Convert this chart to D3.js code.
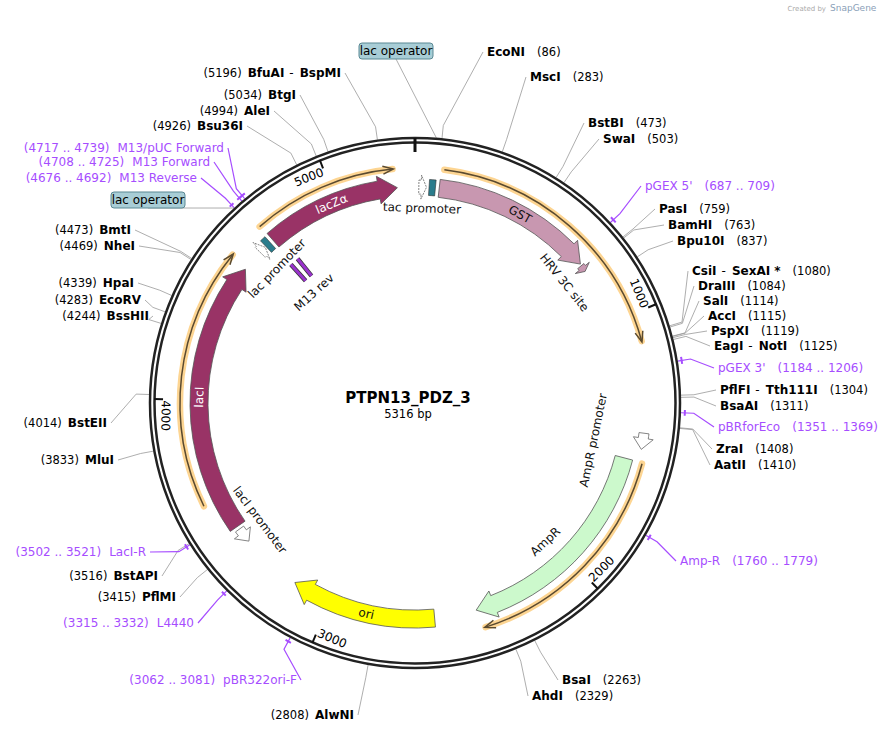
<!DOCTYPE html>
<html><head><meta charset="utf-8">
<script src="https://cdn.jsdelivr.net/npm/d3@7"></script>
<style>body{margin:0;background:#fff}svg{display:block}text{font-family:"DejaVu Sans",Verdana,sans-serif}</style>
</head><body>
<script>
const TOTAL = 5316;
const title = "PTPN13_PDZ_3";
const featureNames = ["GST","HRV 3C site","lacZα","lacI","AmpR","ori"];
const featureStart = [95, 745, 4709, 3473, 1546, 2581];
const featureEnd = [738, 772, 5247, 4552, 2415, 3157];
const featureColors = ["#c897b0","#c897b0","#993366","#993366","#ccf9cc","#ffff00"];
const promoterNames = ["tac promoter","lac promoter","lacI promoter","AmpR promoter"];
const promoterStart = [15, 4640, 3400, 1440];
const promoterEnd = [45, 4668, 3460, 1500];
const operatorPos = [[55, 80], [4672, 4695]];
const m13revPos = [4698, 4738];
const orangeStart = [106, 1550, 3602, 4705];
const orangeEnd = [1107, 2403, 4568, 5238];
const tickValues = [1000, 2000, 3000, 4000, 5000];
const enzymes = [
 ["EcoNI",86],["MscI",283],["BstBI",473],["SwaI",503],["PasI",759],["BamHI",763],["Bpu10I",837],
 ["CsiI - SexAI *",1080],["DraIII",1084],["SalI",1114],["AccI",1115],["PspXI",1119],["EagI - NotI",1125],
 ["PflFI - Tth111I",1304],["BsaAI",1311],["ZraI",1408],["AatII",1410],["BsaI",2263],["AhdI",2329],
 ["AlwNI",2808],["PflMI",3415],["BstAPI",3516],["MluI",3833],["BstEII",4014],["BssHII",4244],["EcoRV",4283],
 ["HpaI",4339],["NheI",4469],["BmtI",4473],["Bsu36I",4926],["AleI",4994],["BtgI",5034],["BfuAI - BspMI",5196]
];
const primers = [
 ["pGEX 5'",687,709],["pGEX 3'",1184,1206],["pBRforEco",1351,1369],["Amp-R",1760,1779],
 ["pBR322ori-F",3062,3081],["L4440",3315,3332],["LacI-R",3502,3521],
 ["M13 Reverse",4676,4692],["M13 Forward",4708,4725],["M13/pUC Forward",4717,4739]
];
const enzymeLayout = [
 [487,56,1],[530,81,1],[588,127,1],[603,143,1],[659,213,1],[668,229,1],[677,245,1],
 [692,275,1],[698,290,1],[703,305,1],[708,320,1],[711,335,1],[714,350,1],
 [720,394,1],[720,410,1],[716,453,1],[714,469,1],[562,684,1],[532,700,1],
 [354,719,-1],[176,601,-1],[158,580,-1],[114,464,-1],[107,427,-1],[149,320,-1],[141,304,-1],
 [134,287,-1],[135,250,-1],[131,234,-1],[243,130,-1],[270,115,-1],[296,99,-1],[341,77,-1]
];
const primerLayout = [
 [645,190,1],[718,372,1],[718,431,1],[680,565,1],
 [297,684,-1],[194,627,-1],[146,556,-1],[197,182,-1],[210,166,-1],[224,152,-1]
];

const W=894,H=733,cx=415,cy=403,R=265;
const svg=d3.select("body").append("svg").attr("width",W).attr("height",H);
const ang=d3.scaleLinear().domain([0,TOTAL]).range([0,2*Math.PI]);
const pt=(r,p)=>{const a=ang(p);return [cx+r*Math.sin(a),cy-r*Math.cos(a)];};
const ca=p=>ang(p)-Math.PI/2;

svg.append("text").attr("x",826).attr("y",11).attr("font-size",7).attr("fill","#aaa").attr("text-anchor","end").text("Created by");
svg.append("text").attr("x",830).attr("y",11).attr("font-size",9).attr("fill","#8aa0b8").text("SnapGene");

const gL=svg.append("g");
function leader(p, lx, ly, side, color, w){
  const a=pt(R+1,p), b=pt(R+14,p);
  const ex = lx - side*4, ey = ly-4;
  gL.append("path").attr("d",`M${a[0]},${a[1]}L${b[0]},${b[1]}L${ex},${ey}`).attr("fill","none").attr("stroke",color).attr("stroke-width",w);
}
enzymes.forEach((e,i)=>{
  const [x,y,s]=enzymeLayout[i];
  leader(e[1],x,y,s,"#999",0.8);
  const t=gL.append("text").attr("x",x).attr("y",y).attr("font-size",12).attr("text-anchor",s>0?"start":"end");
  const parts=e[0].split(" - ");
  const pos="("+e[1]+")";
  if(s<0){ t.append("tspan").attr("font-size",11.5).text(pos); }
  parts.forEach((pp,k)=>{
    if(k>0) t.append("tspan").attr("dx",5).text("-");
    t.append("tspan").attr("font-weight","bold").attr("dx",(k>0||s<0)?6:0).text(pp);
  });
  if(s>0){ t.append("tspan").attr("font-size",11.5).attr("dx",12).text(pos); }
});
primers.forEach((p,i)=>{
  const [x,y,s]=primerLayout[i];
  const m=(p[1]+p[2])/2;
  leader(m,x,y,s,"#a64dff",1.2);
  gL.append("path").attr("d",d3.arc()({innerRadius:R+4,outerRadius:R+6,startAngle:ang(p[1]),endAngle:ang(p[2])})).attr("transform",`translate(${cx},${cy})`).attr("fill","#a64dff");
  const t=gL.append("text").attr("x",x).attr("y",y).attr("font-size",12).attr("fill","#a64dff").attr("text-anchor",s>0?"start":"end");
  const rng="("+p[1]+" .. "+p[2]+")";
  if(s>0){ t.append("tspan").text(p[0]); t.append("tspan").attr("dx",12).text(rng); }
  else { t.append("tspan").text(rng); t.append("tspan").attr("dx",8).text(p[0]); }
});
function opBox(x,y,p){
  const a=pt(R+1,p);
  gL.append("line").attr("x1",a[0]).attr("y1",a[1]).attr("x2",x).attr("y2",y+8).attr("stroke","#999").attr("stroke-width",0.8);
  gL.append("rect").attr("x",x-37).attr("y",y-8).attr("width",74).attr("height",16).attr("rx",3).attr("fill","#a8cdd6").attr("stroke","#5b8994");
  gL.append("text").attr("x",x).attr("y",y+4).attr("text-anchor","middle").attr("font-size",12).text("lac operator");
}
opBox(396,51,68); opBox(148,200,4683);

svg.append("circle").attr("cx",cx).attr("cy",cy).attr("r",R).attr("fill","none").attr("stroke","#222").attr("stroke-width",2.5);
svg.append("circle").attr("cx",cx).attr("cy",cy).attr("r",R-4.5).attr("fill","none").attr("stroke","#222").attr("stroke-width",2.5);
{const a=pt(R,0),b=pt(R-14,0); svg.append("line").attr("x1",a[0]).attr("y1",a[1]).attr("x2",b[0]).attr("y2",b[1]).attr("stroke","#111").attr("stroke-width",3);}
tickValues.forEach(v=>{
  const a=pt(R-4,v),b=pt(R-13,v);
  svg.append("line").attr("x1",a[0]).attr("y1",a[1]).attr("x2",b[0]).attr("y2",b[1]).attr("stroke","#111").attr("stroke-width",2);
  const deg=ang(v)*180/Math.PI;
  const top = deg<90||deg>300;
  const rot = top? deg : deg-180;
  const q=pt(R-16, v-4);
  svg.append("text").attr("transform",`translate(${q[0]},${q[1]}) rotate(${rot})`).attr("text-anchor",top?"end":"start").attr("dy","0.35em").attr("font-size",12).text(v);
});

function arcPath(r,p1,p2){const pa=d3.path();pa.arc(cx,cy,r,ca(p1),ca(p2),false);return pa.toString();}
orangeStart.forEach((s,i)=>{
  const e=orangeEnd[i], r=235;
  svg.append("path").attr("d",arcPath(r,s,e-3)).attr("fill","none").attr("stroke","#fdd592").attr("stroke-width",6.5).attr("stroke-linecap","round");
  svg.append("path").attr("d",arcPath(r,s,e-3)).attr("fill","none").attr("stroke","#5a4a30").attr("stroke-width",1.5);
  const t=pt(r,e), b1=pt(r+4,e-38), b2=pt(r-4,e-38);
  svg.append("path").attr("d",`M${b1}L${t}L${b2}`).attr("fill","none").attr("stroke","#5a4a30").attr("stroke-width",1.5);
});

function arrow(p1,p2,r0,r1,dir,headDeg){
  const h = headDeg/360*TOTAL, rm=(r0+r1)/2, fl=5;
  const pa=d3.path();
  if(dir>0){
    const hb=p2-h;
    pa.arc(cx,cy,r1,ca(p1),ca(hb),false);
    pa.lineTo(...pt(r1+fl,hb)); pa.lineTo(...pt(rm,p2)); pa.lineTo(...pt(r0-fl,hb)); pa.lineTo(...pt(r0,hb));
    pa.arc(cx,cy,r0,ca(hb),ca(p1),true); pa.closePath();
  } else {
    const hb=p1+h;
    pa.moveTo(...pt(rm,p1)); pa.lineTo(...pt(r1+fl,hb));
    pa.arc(cx,cy,r1,ca(hb),ca(p2),false);
    pa.arc(cx,cy,r0,ca(p2),ca(hb),true);
    pa.lineTo(...pt(r0-fl,hb)); pa.closePath();
  }
  return pa.toString();
}
const r0=207,r1=225;
featureNames.forEach((n,i)=>{
  const small = n==="HRV 3C site";
  svg.append("path").attr("d",arrow(featureStart[i],featureEnd[i],small?r0+4:r0,small?r1-6:r1,1,small?1.2:5))
    .attr("fill",featureColors[i]).attr("stroke","#555").attr("stroke-width",0.8);
});
promoterNames.forEach((n,i)=>{
  const big = n==="AmpR promoter"||n==="lacI promoter";
  const dir = n==="lacI promoter"? -1 : 1;
  const rr0 = n==="AmpR promoter"? 226 : (n==="lacI promoter"? 211 : r0+2);
  const rr1 = rr0 + (big?10:14);
  svg.append("path").attr("d",arrow(promoterStart[i],promoterEnd[i],rr0,rr1,dir,big?2.8:1.4))
    .attr("fill","#fff").attr("stroke","#666").attr("stroke-width",0.8).attr("stroke-dasharray",big?null:"2,1");
});
operatorPos.forEach(o=>{
  svg.append("path").attr("d",d3.arc()({innerRadius:r0+1,outerRadius:r1-1,startAngle:ang(o[0]),endAngle:ang(o[1])}))
    .attr("transform",`translate(${cx},${cy})`).attr("fill","#2a7c8c").attr("stroke","#333").attr("stroke-width",0.6);
});
m13revPos.forEach(p=>{
  const a=pt(186,p),b=pt(164,p);
  svg.append("line").attr("x1",a[0]).attr("y1",a[1]).attr("x2",b[0]).attr("y2",b[1]).attr("stroke","#333").attr("stroke-width",4.5);
  svg.append("line").attr("x1",a[0]).attr("y1",a[1]).attr("x2",b[0]).attr("y2",b[1]).attr("stroke","#9933cc").attr("stroke-width",3);
});

function arcText(txt,p,r,opts={}){
  const deg=ang(p)*180/Math.PI;
  const q=pt(r,p);
  let rot = deg + (opts.flip?180:0);
  svg.append("text").attr("transform",`translate(${q[0]},${q[1]}) rotate(${rot})`).attr("text-anchor","middle").attr("dy","0.35em")
    .attr("font-size",opts.size||12).attr("fill",opts.fill||"#111").text(txt);
}
arcText("GST",430,216);
arcText("lacZα",4980,216,{fill:"#fff"});
arcText("lacI",4010,216,{fill:"#fff"});
arcText("AmpR",2020,190,{flip:true});
arcText("ori",2850,216,{flip:true});
arcText("tac promoter",30,195);
arcText("lac promoter",4640,193);
arcText("M13 rev",4690,150);
arcText("HRV 3C site",755,192);
arcText("lacI promoter",3440,194,{flip:true});
arcText("AmpR promoter",1503,182,{flip:true});

svg.append("text").attr("x",cx-7).attr("y",403).attr("text-anchor","middle").attr("font-weight","bold").attr("font-size",15).text(title);
svg.append("text").attr("x",cx-7).attr("y",418).attr("text-anchor","middle").attr("font-size",11.5).text(TOTAL+" bp");
</script>
</body></html>
